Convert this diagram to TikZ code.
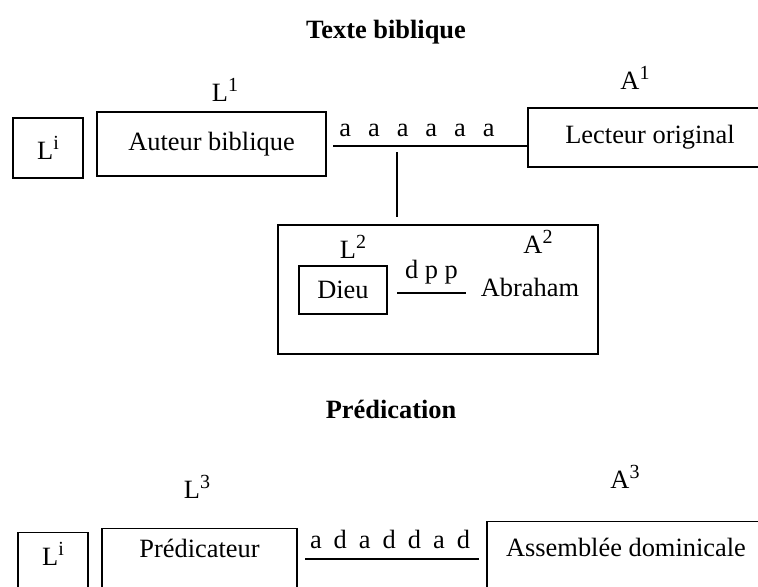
\documentclass[tikz,border=0pt]{standalone}
\usepackage{fontspec}
\setmainfont{Liberation Serif}
\newcommand{\expo}[1]{\raisebox{0.85ex}{\fontsize{10}{12}\selectfont #1}}
\begin{document}
\begin{tikzpicture}[x=0.5pt,y=-0.5pt,line width=0.6pt,
  every node/.style={font=\fontsize{13.2}{16}\selectfont},
  boite/.style={draw,rectangle,inner sep=0pt},
  titre/.style={font=\fontsize{13.2}{16}\selectfont\bfseries}]
  \useasboundingbox (0,0) rectangle (758,586);
  \clip (0,0) rectangle (758,586);
  \node[titre] (titre1) at (386,32) {Texte biblique};
  \node (L1) at (225,90) {L\expo{1}};
  \node (A1) at (635,78) {A\expo{1}};
  \node[boite,minimum width=35pt,minimum height=30pt] (li1) at (48,148) {L\expo{i}};
  \node[boite,minimum width=114.5pt,minimum height=32pt] (auteur) at (211.5,144) {Auteur biblique};
  \node[boite,minimum width=122pt,minimum height=29.5pt] (lecteur) at (650,137.5) {Lecteur original};
  \coordinate (ga) at (333,146);
  \draw (ga) -- (ga -| lecteur.west);
  \node (aaa) at (417,130) {a\hspace{8.5pt}a\hspace{8.5pt}a\hspace{8.5pt}a\hspace{8.5pt}a\hspace{8.5pt}a};
  \node[boite,minimum width=160pt,minimum height=64.5pt] (cadre) at (438,289.5) {};
  \coordinate (pied) at (397,152);
  \draw[shorten >=3.5pt] (pied) -- (pied |- cadre.north);
  \node (L2) at (353,247) {L\expo{2}};
  \node (A2) at (538,242) {A\expo{2}};
  \node[boite,minimum width=44pt,minimum height=24pt] (dieu) at (343,290) {Dieu};
  \node (abraham) at (530,287) {Abraham};
  \coordinate (gd) at (397,293);
  \draw (gd) -- (466,293) node[midway,above=1pt] (dpp) {d p p};
  \node[titre] (titre2) at (391,409) {Prédication};
  \node (L3) at (197,487) {L\expo{3}};
  \node (A3) at (625,477) {A\expo{3}};
  \node[boite,minimum width=35pt,text height=16.5pt,text depth=17.5pt,anchor=north] (li2) at (53,532) {L\expo{i}};
  \node[boite,minimum width=97.5pt,text height=14.5pt,text depth=21.5pt,anchor=north] (predicateur) at (199.5,528) {Prédicateur};
  \node[boite,minimum width=139pt,text height=17.5pt,text depth=22pt,anchor=north] (assemblee) at (626,521) {Assemblée dominicale};
  \coordinate (gp) at (305,559);
  \draw[shorten >=3.5pt] (gp) -- (gp -| assemblee.west);
  \node (adad) at (390,539) {a\hspace{6pt}d\hspace{6pt}a\hspace{6pt}d\hspace{6pt}d\hspace{6pt}a\hspace{6pt}d};
\end{tikzpicture}
\end{document}
